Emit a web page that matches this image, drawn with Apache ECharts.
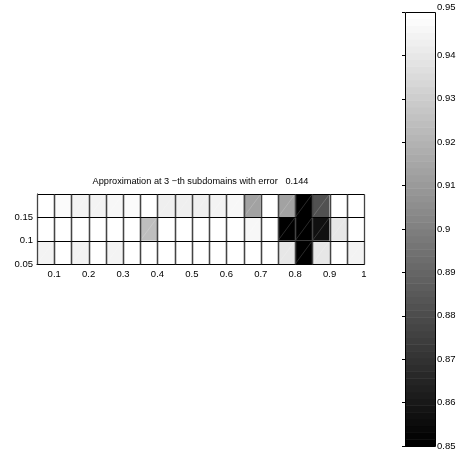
<!DOCTYPE html>
<html>
<head>
<meta charset="utf-8">
<script src="https://cdn.jsdelivr.net/npm/echarts@6/dist/echarts.min.js"></script>
<style>
  html, body { margin: 0; padding: 0; background: #fff; }
  #chart { width: 462px; height: 453px; }
</style>
</head>
<body>
<div id="chart"></div>
<script>
// Left edges of the 19 columns and bottom edges of the 3 rows (cell size 0.05)
const xEdges = [0.05, 0.10, 0.15, 0.20, 0.25, 0.30, 0.35, 0.40, 0.45, 0.50,
                0.55, 0.60, 0.65, 0.70, 0.75, 0.80, 0.85, 0.90, 0.95];
const yEdges = [0.05, 0.10, 0.15];
const cellStep = 0.05;

// Cell values, one array per row (bottom, middle, top), left to right
const rowBottom = [0.9449, 0.9500, 0.9441, 0.9500, 0.9453, 0.9500, 0.9500, 0.9500, 0.9500, 0.9500,
                   0.9500, 0.9500, 0.9500, 0.9500, 0.9402, 0.8500, 0.9402, 0.9500, 0.9453];
const rowMiddle = [0.9500, 0.9500, 0.9500, 0.9500, 0.9500, 0.9500, 0.9245, 0.9500, 0.9500, 0.9500,
                   0.9500, 0.9500, 0.9461, 0.9500, 0.8500, 0.8500, 0.8563, 0.9402, 0.9500];
const rowTop    = [0.9500, 0.9469, 0.9453, 0.9441, 0.9461, 0.9469, 0.9500, 0.9429, 0.9429, 0.9433,
                   0.9449, 0.9461, 0.9127, 0.9500, 0.9127, 0.8500, 0.8814, 0.9500, 0.9492];

// Tick labels
const xTickLabels = ['0.1', '0.2', '0.3', '0.4', '0.5', '0.6', '0.7', '0.8', '0.9', '1'];
const yTickLabels = ['0.05', '0.1', '0.15'];
const colorbarTicks = ['0.85', '0.86', '0.87', '0.88', '0.89', '0.9',
                       '0.91', '0.92', '0.93', '0.94', '0.95'];
const colorMin = 0.85;
const colorMax = 0.95;
const colorLevels = 64;
const titleText = 'Approximation at 3 \u2212th subdomains with error   0.144';

const FONT = '"Liberation Sans", Arial, Helvetica, sans-serif';

// gray colormap with a fixed number of levels
function levelGray(k) {
  const g = Math.round(k / (colorLevels - 1) * 255);
  return 'rgb(' + g + ',' + g + ',' + g + ')';
}
function valueGray(v) {
  let k = Math.floor((v - colorMin) / (colorMax - colorMin) * colorLevels);
  k = Math.max(0, Math.min(colorLevels - 1, k));
  return { color: levelGray(k), level: k };
}
function labelFor(list, v) {
  for (const s of list) if (Math.abs(Number(s) - v) < 1e-6) return s;
  return '';
}

const rows = [rowBottom, rowMiddle, rowTop];
const cells = [];
rows.forEach((row, r) => {
  row.forEach((v, c) => cells.push([xEdges[c], yEdges[r], v]));
});

function cellRect(api) {
  const x0 = api.value(0), y0 = api.value(1);
  const p0 = api.coord([x0, y0]);
  const p1 = api.coord([x0 + cellStep, y0 + cellStep]);
  return { x0: p0[0], y0: p1[1], x1: p1[0], y1: p0[1] };
}
const snap = (v) => Math.round(v) + 0.5;

const chart = echarts.init(document.getElementById('chart'));
chart.setOption({
  animation: false,
  backgroundColor: '#fff',
  grid: [
    { left: 37, top: 194, width: 327, height: 70, containLabel: false },
    { left: 405, top: 12, width: 30, height: 434, containLabel: false }
  ],
  xAxis: [
    {
      type: 'value', gridIndex: 0, min: 0.05, max: 1, interval: 0.05,
      axisLine: { show: true, lineStyle: { color: '#000', width: 1 } },
      axisTick: { show: false },
      splitLine: { show: false },
      axisLabel: {
        margin: 5, fontSize: 9.5, fontFamily: FONT, color: '#000',
        formatter: (v) => labelFor(xTickLabels, v)
      }
    },
    { type: 'value', gridIndex: 1, min: 0, max: 1, show: false }
  ],
  yAxis: [
    {
      type: 'value', gridIndex: 0, min: 0.05, max: 0.2, interval: 0.05,
      axisLine: { show: true, lineStyle: { color: '#000', width: 1 } },
      axisTick: { show: false },
      splitLine: { show: false },
      axisLabel: {
        margin: 4, fontSize: 9.5, fontFamily: FONT, color: '#000',
        formatter: (v) => labelFor(yTickLabels, v)
      }
    },
    {
      type: 'value', gridIndex: 1, min: colorMin, max: colorMax, interval: 0.01,
      position: 'right',
      axisLine: { show: false },
      axisTick: { show: true, inside: true, length: 3, lineStyle: { color: '#000' } },
      splitLine: { show: false },
      axisLabel: {
        margin: 2, fontSize: 9.5, fontFamily: FONT, color: '#000',
        verticalAlignMaxLabel: 'bottom',
        formatter: (v) => labelFor(colorbarTicks, v)
      }
    },
    {
      type: 'value', gridIndex: 1, min: colorMin, max: colorMax, interval: 0.01,
      position: 'left',
      axisLine: { show: false },
      axisTick: { show: true, inside: true, length: 3, lineStyle: { color: '#000' } },
      splitLine: { show: false },
      axisLabel: { show: false }
    }
  ],
  graphic: [{
    type: 'text',
    x: 200.5, y: 181,
    style: {
      text: titleText, fill: '#000', fontSize: 9.2, fontFamily: FONT,
      textAlign: 'center', textVerticalAlign: 'middle'
    }
  }],
  series: [
    // cell fills
    {
      type: 'custom', xAxisIndex: 0, yAxisIndex: 0, z: 2,
      data: cells,
      renderItem: (params, api) => {
        const r = cellRect(api);
        const g = valueGray(api.value(2));
        const children = [{
          type: 'rect',
          shape: { x: r.x0, y: r.y0, width: r.x1 - r.x0, height: r.y1 - r.y0 },
          style: { fill: g.color }
        }];
        if (g.level < colorLevels - 2) {
          children.push({
            type: 'line',
            shape: { x1: r.x0, y1: r.y1, x2: r.x1, y2: r.y0 },
            style: { stroke: 'rgba(255,255,255,0.28)', lineWidth: 0.6 }
          });
        }
        return { type: 'group', children };
      }
    },
    // cell borders
    {
      type: 'custom', xAxisIndex: 0, yAxisIndex: 0, z: 3,
      data: cells,
      renderItem: (params, api) => {
        const r = cellRect(api);
        const xa = snap(r.x0), xb = snap(r.x1), ya = snap(r.y0), yb = snap(r.y1);
        return {
          type: 'group',
          children: [
            { type: 'line', shape: { x1: xa, y1: ya, x2: xa, y2: yb }, style: { stroke: '#444', lineWidth: 1.3 } },
            { type: 'line', shape: { x1: xb, y1: ya, x2: xb, y2: yb }, style: { stroke: '#444', lineWidth: 1.3 } },
            { type: 'line', shape: { x1: xa, y1: ya, x2: xb, y2: ya }, style: { stroke: '#000', lineWidth: 1 } },
            { type: 'line', shape: { x1: xa, y1: yb, x2: xb, y2: yb }, style: { stroke: '#000', lineWidth: 1 } }
          ]
        };
      }
    },
    // colorbar
    {
      type: 'custom', xAxisIndex: 1, yAxisIndex: 1, z: 2,
      data: [[0, colorMin]],
      renderItem: (params, api) => {
        const children = [];
        const step = (colorMax - colorMin) / colorLevels;
        for (let k = 0; k < colorLevels; k++) {
          const a = api.coord([0, colorMin + k * step]);
          const b = api.coord([1, colorMin + (k + 1) * step]);
          children.push({
            type: 'rect',
            shape: { x: a[0], y: b[1], width: b[0] - a[0], height: a[1] - b[1] + 0.5 },
            style: { fill: levelGray(k) }
          });
        }
        const lo = api.coord([0, colorMin]);
        const hi = api.coord([1, colorMax]);
        children.push({
          type: 'rect',
          shape: { x: snap(lo[0]), y: snap(hi[1]), width: Math.round(hi[0] - lo[0]), height: Math.round(lo[1] - hi[1]) },
          style: { fill: 'none', stroke: '#000', lineWidth: 1 }
        });
        return { type: 'group', children };
      }
    }
  ]
});
</script>
</body>
</html>
